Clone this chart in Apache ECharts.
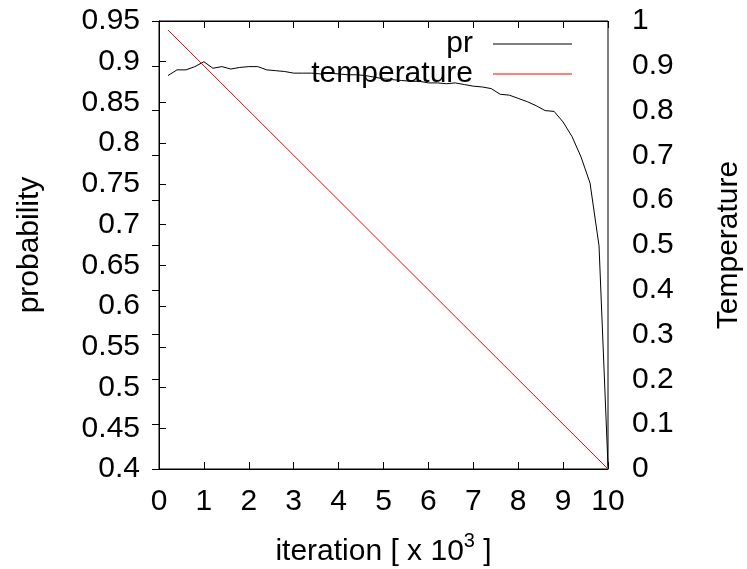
<!DOCTYPE html>
<html>
<head>
<meta charset="utf-8">
<script src="https://cdn.jsdelivr.net/npm/echarts@6/dist/echarts.min.js"></script>
<style>html,body{margin:0;padding:0;background:#fff}#c{width:747px;height:569px}</style>
</head>
<body>
<div id="c"></div>
<script>
const iterations = [0.2,0.4,0.6,0.8,1.0,1.2,1.4,1.6,1.8,2.0,2.2,2.4,2.6,2.8,3.0,3.2,3.4,3.6,3.8,4.0,4.2,4.4,4.6,4.8,5.0,5.2,5.4,5.6,5.8,6.0,6.2,6.4,6.6,6.8,7.0,7.2,7.4,7.6,7.8,8.0,8.2,8.4,8.6,8.8,9.0,9.2,9.4,9.6,9.8,10.0];
const prValues = [0.883,0.890,0.890,0.894,0.900,0.892,0.894,0.891,0.893,0.894,0.894,0.890,0.889,0.888,0.886,0.886,0.886,0.885,0.886,0.885,0.884,0.884,0.883,0.881,0.879,0.878,0.877,0.876,0.876,0.874,0.874,0.873,0.874,0.872,0.870,0.869,0.867,0.860,0.859,0.855,0.851,0.846,0.840,0.839,0.826,0.808,0.783,0.751,0.674,0.403];
const tempIterations = [0.2, 10.0];
const tempValues = [0.98, 0.0];
const xTicks = {min: 0, max: 10, interval: 1};
const yTicks = {min: 0.4, max: 0.95, interval: 0.05};
const y2Ticks = {min: 0, max: 1, interval: 0.1};

const FONT = 'Liberation Sans';
const FS = 30;
const chart = echarts.init(document.getElementById('c'), null, {renderer: 'canvas'});
const axisLine = {show: true, lineStyle: {color: '#000', width: 1}};
chart.setOption({
  animation: false,
  textStyle: {fontFamily: FONT, color: '#000'},
  grid: {left: 159, right: 139, top: 21, bottom: 100, containLabel: false, outerBoundsMode: 'none', show: true, borderColor: '#000', borderWidth: 1, backgroundColor: 'transparent'},
  legend: {
    orient: 'vertical', align: 'right', right: 175, top: 29, padding: 0, itemGap: 0,
    itemWidth: 79, itemHeight: 1,
    textStyle: {fontFamily: FONT, fontSize: FS, color: '#000', lineHeight: 30, padding: [0, 15, 0, 0]},
    data: [{name: 'pr', icon: 'rect'}, {name: 'temperature', icon: 'rect'}]
  },
  xAxis: [{
    type: 'value', position: 'bottom', min: xTicks.min, max: xTicks.max, interval: xTicks.interval,
    name: 'iteration [ x 10{sup|3} ]', nameLocation: 'middle', nameGap: 62,
    nameTextStyle: {fontFamily: FONT, fontSize: FS, color: '#000', rich: {sup: {fontFamily: FONT, fontSize: 20, color: '#000', padding: [0, 0, 22, 0]}}},
    axisLine: axisLine, axisTick: {inside: true, length: 7, lineStyle: {color: '#000'}},
    axisLabel: {fontFamily: FONT, fontSize: FS, color: '#000', margin: 18},
    splitLine: {show: false}
  }, {
    type: 'value', position: 'top', min: xTicks.min, max: xTicks.max, interval: xTicks.interval,
    axisLine: axisLine, axisTick: {inside: true, length: 7, lineStyle: {color: '#000'}},
    axisLabel: {show: false}, splitLine: {show: false}
  }],
  yAxis: [{
    type: 'value', position: 'left', min: yTicks.min, max: yTicks.max, interval: yTicks.interval,
    name: 'probability', nameLocation: 'middle', nameGap: 114,
    nameTextStyle: {fontFamily: FONT, fontSize: FS, color: '#000'},
    axisLine: axisLine, axisTick: {inside: true, length: 7, lineStyle: {color: '#000'}},
    axisLabel: {fontFamily: FONT, fontSize: FS, color: '#000', margin: 19, formatter: v => String(+v.toFixed(2))},
    splitLine: {show: false}
  }, {
    type: 'value', position: 'right', min: y2Ticks.min, max: y2Ticks.max, interval: y2Ticks.interval,
    name: 'Temperature', nameLocation: 'middle', nameGap: 106,
    nameTextStyle: {fontFamily: FONT, fontSize: FS, color: '#000'},
    axisLine: axisLine, axisTick: {inside: true, length: 7, lineStyle: {color: '#000'}},
    axisLabel: {fontFamily: FONT, fontSize: FS, color: '#000', margin: 24, formatter: v => String(+v.toFixed(1))},
    splitLine: {show: false}
  }],
  series: [{
    name: 'pr', type: 'line', xAxisIndex: 0, yAxisIndex: 0, symbol: 'none', showSymbol: false,
    lineStyle: {color: '#000', width: 1}, itemStyle: {color: '#000'},
    data: iterations.map((x, i) => [x, prValues[i]])
  }, {
    name: 'temperature', type: 'line', xAxisIndex: 0, yAxisIndex: 1, symbol: 'none', showSymbol: false,
    lineStyle: {color: '#ff0000', width: 1}, itemStyle: {color: '#ff0000'},
    data: tempIterations.map((x, i) => [x, tempValues[i]])
  }]
});
</script>
</body>
</html>
